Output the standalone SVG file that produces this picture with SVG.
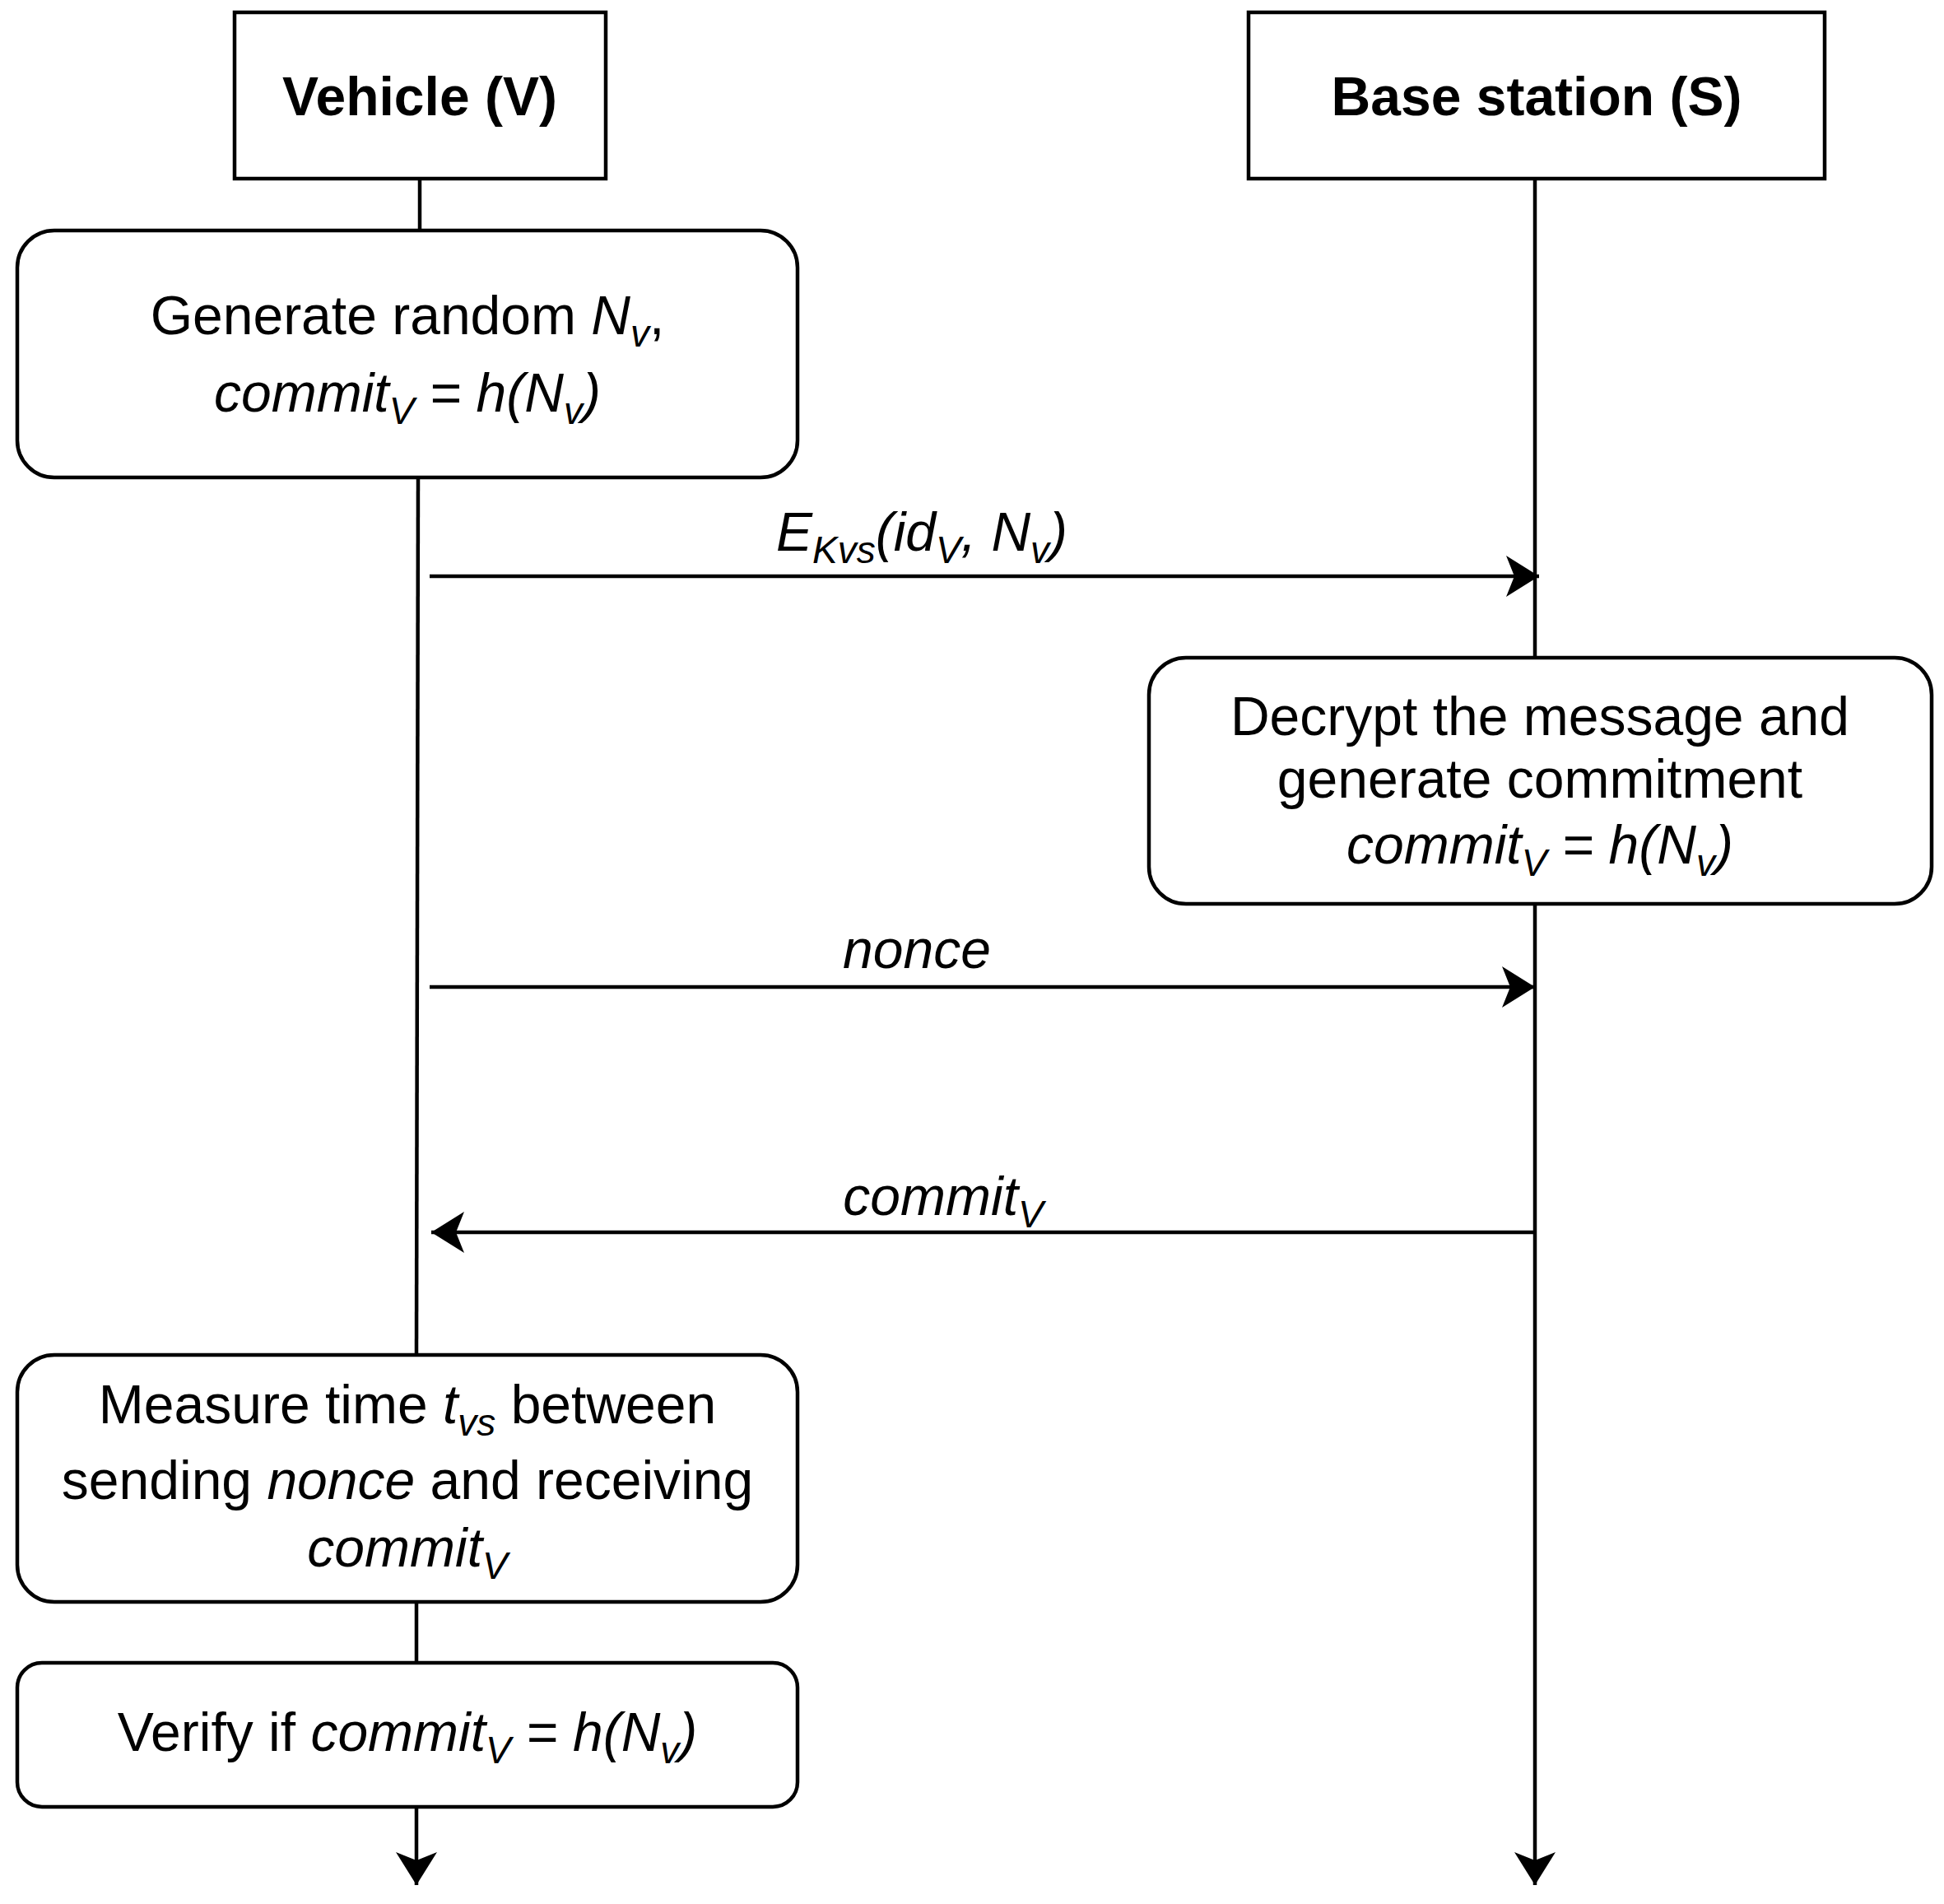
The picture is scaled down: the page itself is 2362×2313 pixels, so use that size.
<svg xmlns="http://www.w3.org/2000/svg" width="2362" height="2313" viewBox="0 0 2362 2313">
<style>
text{font-family:"Liberation Sans",Arial,sans-serif;font-size:66px;fill:#000;text-anchor:middle}
.b{font-weight:bold}
.i{font-style:italic}
.s{font-size:46px}
.box{fill:#fff;stroke:#000;stroke-width:4.5}
.ln{stroke:#000;stroke-width:4.5;fill:none}
</style>
<defs>
<marker id="a" viewBox="0 0 10 10" refX="9" refY="5" markerWidth="10" markerHeight="10" markerUnits="userSpaceOnUse" orient="auto" overflow="visible">
<path d="M-40,-20 L0,5 L-40,30 L-30,5 Z" transform="translate(9,0)"/>
</marker>
</defs>
<g id="connectors">
<line class="ln" x1="510" y1="217" x2="510" y2="280"/>
<line class="ln" x1="508" y1="580" x2="506" y2="1646"/>
<line class="ln" x1="506" y1="1946" x2="506" y2="2020"/>
<path class="ln" d="M506 2195 L506 2290" marker-end="url(#a)"/>
<line class="ln" x1="1865" y1="217" x2="1865" y2="799"/>
<path class="ln" d="M1865 1098 L1865 2290" marker-end="url(#a)"/>
<path class="ln" d="M522 700 L1870 700" marker-end="url(#a)"/>
<path class="ln" d="M522 1199 L1865 1199" marker-end="url(#a)"/>
<path class="ln" d="M1865 1497 L524 1497" marker-end="url(#a)"/>
<text x="1120" y="669" class="i">E<tspan class="s" dy="15">Kvs</tspan><tspan dy="-15">(id</tspan><tspan class="s" dy="15">V</tspan><tspan dy="-15">, N</tspan><tspan class="s" dy="15">v</tspan><tspan dy="-15">)</tspan></text>
<text x="1114" y="1176" class="i">nonce</text>
<text x="1146" y="1476" class="i">commit<tspan class="s" dy="15">V</tspan></text>
</g>
<g id="vehicle"><rect class="box" x="285" y="15" width="451" height="202"/><text x="510" y="140" class="b">Vehicle (V)</text></g>
<g id="base"><rect class="box" x="1517" y="15" width="700" height="202"/><text x="1867" y="140" class="b">Base station (S)</text></g>
<g id="gen"><rect class="box" x="21" y="280" width="948" height="300" rx="45"/>
<text x="495" y="406">Generate random <tspan class="i">N</tspan><tspan class="s i" dy="15">v</tspan><tspan dy="-15">,</tspan></text>
<text x="495" y="500" class="i">commit<tspan class="s" dy="15">V</tspan><tspan dy="-15"> = h(N</tspan><tspan class="s" dy="15">v</tspan><tspan dy="-15">)</tspan></text></g>
<g id="decrypt"><rect class="box" x="1396" y="799" width="951" height="299" rx="45"/>
<text x="1871" y="893">Decrypt the message and</text>
<text x="1871" y="969">generate commitment</text>
<text x="1871" y="1049" class="i">commit<tspan class="s" dy="15">V</tspan><tspan dy="-15"> = h(N</tspan><tspan class="s" dy="15">v</tspan><tspan dy="-15">)</tspan></text></g>
<g id="measure"><rect class="box" x="21" y="1646" width="948" height="300" rx="45"/>
<text x="495" y="1729">Measure time <tspan class="i">t</tspan><tspan class="s i" dy="15">vs</tspan><tspan dy="-15"> between</tspan></text>
<text x="495" y="1821">sending <tspan class="i">nonce</tspan> and receiving</text>
<text x="495" y="1903" class="i">commit<tspan class="s" dy="15">V</tspan></text></g>
<g id="verify"><rect class="box" x="21" y="2020" width="948" height="175" rx="30"/>
<text x="495" y="2127">Verify if <tspan class="i">commit</tspan><tspan class="s i" dy="15">V</tspan><tspan class="i" dy="-15"> = h(N</tspan><tspan class="s i" dy="15">v</tspan><tspan class="i" dy="-15">)</tspan></text></g>
</svg>
